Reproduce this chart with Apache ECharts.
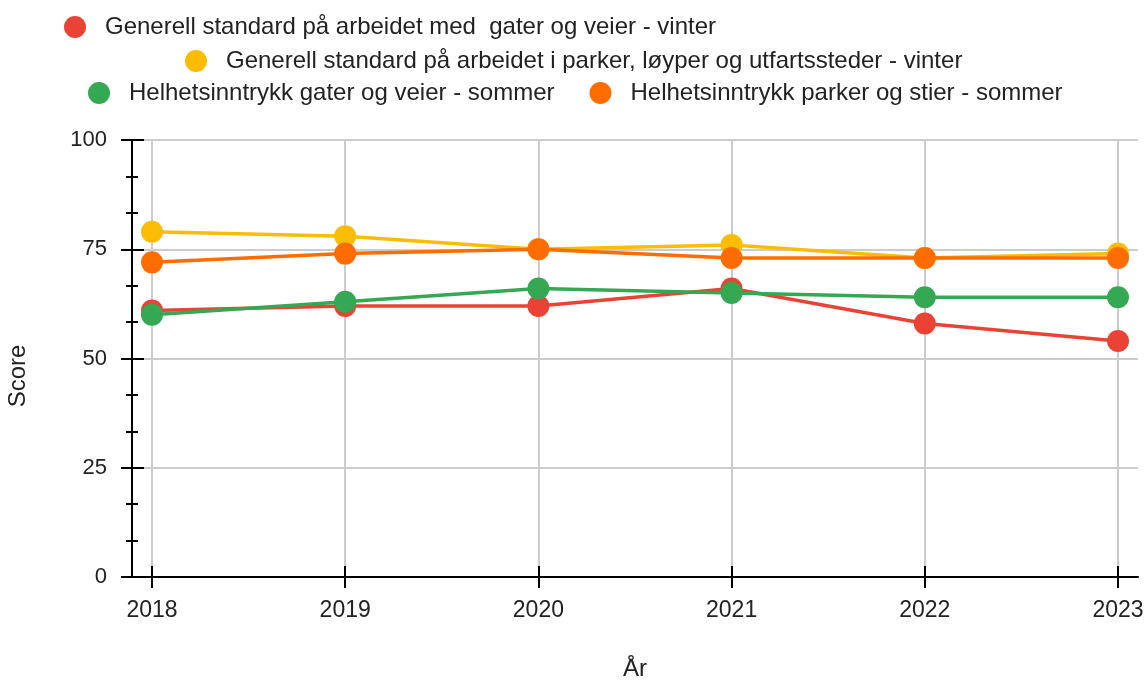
<!DOCTYPE html>
<html>
<head>
<meta charset="utf-8">
<script src="https://cdn.jsdelivr.net/npm/echarts@6/dist/echarts.min.js"></script>
<style>html,body{margin:0;padding:0;background:#fff}#c{width:1148px;height:681px}</style>
</head>
<body>
<div id="c"></div>
<script>
const years = [2018, 2019, 2020, 2021, 2022, 2023];
const seriesNames = [
  'Generell standard på arbeidet med  gater og veier - vinter',
  'Generell standard på arbeidet i parker, løyper og utfartssteder - vinter',
  'Helhetsinntrykk gater og veier - sommer',
  'Helhetsinntrykk parker og stier - sommer'
];
const gaterVinter = [61, 62, 62, 66, 58, 54];
const parkerVinter = [79, 78, 75, 76, 73, 74];
const gaterSommer = [60, 63, 66, 65, 64, 64];
const parkerSommer = [72, 74, 75, 73, 73, 73];
const yTicks = [0, 25, 50, 75, 100];
const colors = ['#ea4335', '#fbbc04', '#34a853', '#ff6d01'];

const allValues = [gaterVinter, parkerVinter, gaterSommer, parkerSommer];
const font = 'Liberation Sans, Arial, sans-serif';
const xMin = 2018 - 20 / 193.2, xMax = 2023 + 20 / 193.2;

const chart = echarts.init(document.getElementById('c'));
const legendBase = {
  icon: 'circle', itemWidth: 22, itemHeight: 22, itemGap: 35, padding: 0,
  textStyle: { fontFamily: font, fontSize: 24, lineHeight: 24, color: '#222', padding: [0, 0, 0, 14] },
  selectedMode: false, orient: 'horizontal'
};
chart.setOption({
  animation: false,
  color: colors,
  textStyle: { fontFamily: font },
  legend: [
    Object.assign({}, legendBase, { left: 64, top: 15, data: [seriesNames[0]] }),
    Object.assign({}, legendBase, { left: 185, top: 49, data: [seriesNames[1]] }),
    Object.assign({}, legendBase, { left: 88, top: 81, data: [seriesNames[2], seriesNames[3]] })
  ],
  grid: { left: 132, right: 10, top: 140, bottom: 104, containLabel: false, outerBoundsMode: 'none' },
  xAxis: [{
    type: 'value', min: xMin, max: xMax, position: 'bottom',
    name: 'År', nameLocation: 'middle', nameGap: 80,
    nameTextStyle: { fontFamily: font, fontSize: 24, color: '#222' },
    axisLine: { show: true, onZero: false, lineStyle: { color: '#000', width: 2 } },
    axisTick: { show: true, customValues: years, length: 11, lineStyle: { color: '#000', width: 2 } },
    axisLabel: { customValues: years, formatter: v => String(v), fontSize: 23, color: '#222', margin: 22, fontFamily: font },
    splitLine: { show: true, lineStyle: { color: '#cccccc', width: 2 } }
  }, {
    type: 'value', min: xMin, max: xMax, position: 'bottom',
    axisLine: { show: false, onZero: false },
    axisTick: { show: true, inside: true, customValues: years, length: 11, lineStyle: { color: '#000', width: 2 } },
    axisLabel: { show: false },
    splitLine: { show: false }
  }],
  yAxis: [{
    type: 'value', min: 0, max: 100, interval: 25, position: 'left',
    name: 'Score', nameLocation: 'middle', nameGap: 102, nameRotate: 90,
    nameTextStyle: { fontFamily: font, fontSize: 24, color: '#222', padding: [0, 35, 0, 0] },
    axisLine: { show: true, onZero: false, lineStyle: { color: '#000', width: 2 } },
    axisTick: { show: true, length: 11, lineStyle: { color: '#000', width: 2 } },
    minorTick: { show: true, splitNumber: 3, length: 6, lineStyle: { color: '#000', width: 2 } },
    axisLabel: { customValues: yTicks, fontSize: 22, color: '#222', margin: 25, fontFamily: font },
    splitLine: { show: true, lineStyle: { color: '#cccccc', width: 2 } }
  }, {
    type: 'value', min: 0, max: 100, interval: 25, position: 'left',
    axisLine: { show: false, onZero: false },
    axisTick: { show: true, inside: true, length: 12, lineStyle: { color: '#000', width: 2 } },
    minorTick: { show: true, splitNumber: 3, length: 6, lineStyle: { color: '#000', width: 2 } },
    axisLabel: { show: false },
    splitLine: { show: false }
  }],
  series: seriesNames.map((name, i) => ({
    name: name, type: 'line',
    data: years.map((y, j) => [y, allValues[i][j]]),
    symbol: 'circle', symbolSize: 22,
    lineStyle: { width: 3.5, color: colors[i] },
    itemStyle: { color: colors[i] },
    z: 2 + i
  }))
});
</script>
</body>
</html>
